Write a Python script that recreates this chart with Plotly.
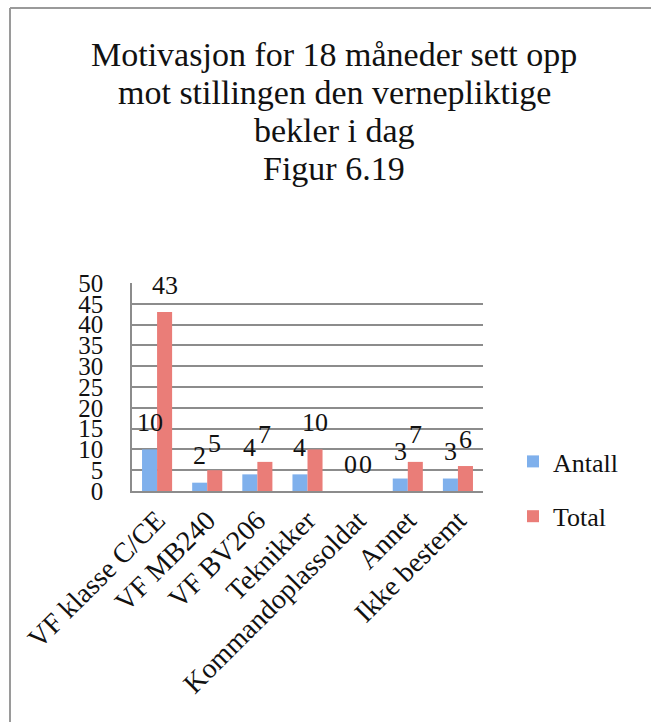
import plotly.graph_objects as go

# Categories and values
categories = ["VF klasse C/CE", "VF MB240", "VF BV206", "Teknikker",
              "Kommandoplassoldat", "Annet", "Ikke bestemt"]
antall = [10, 2, 4, 4, 0, 3, 3]
total = [43, 5, 7, 10, 0, 7, 6]
y_ticks = list(range(0, 51, 5))
title_lines = ["Motivasjon for 18 måneder sett opp",
               "mot stillingen den vernepliktige",
               "bekler i dag",
               "Figur 6.19"]

FONT = "Liberation Serif"
BLUE = "#7FB0EC"
RED = "#EA7D78"
GRID = "#8C8C8C"
FRAME = "#9A9A9A"

W, H = 651, 722
M_L, M_R, M_T, M_B = 132, 168, 283, 231
BARGAP = 0.4
plot_w = W - M_L - M_R
plot_h = H - M_T - M_B


def px_x(px):
    return (px - M_L) / plot_w


def px_y(px):
    return (H - M_B - px) / plot_h


fig = go.Figure()
fig.add_trace(go.Bar(name="Antall", x=categories, y=antall, legendgroup="antall",
                     marker=dict(color=BLUE, line=dict(width=0))))
fig.add_trace(go.Bar(name="Total", x=categories, y=total, legendgroup="total",
                     marker=dict(color=RED, line=dict(width=0))))

# value labels above each bar, shifted to the bar within its group
bar_px = plot_w / len(categories) * (1 - BARGAP) / 2
annotations = []
for vals, sign in ((antall, -1), (total, 1)):
    for c, v in zip(categories, vals):
        annotations.append(dict(
            x=c, y=v, xref="x", yref="y", text=str(v), showarrow=False,
            xshift=sign * bar_px / 2, yshift=27, yanchor="middle",
            font=dict(family=FONT, size=26, color="#111111")))

# chart title, one centred line at a time
for i, line in enumerate(title_lines):
    annotations.append(dict(
        x=px_x(334), y=px_y(55 + i * 37.7), xref="paper", yref="paper",
        text=line, showarrow=False, xanchor="center", yanchor="middle",
        font=dict(family=FONT, size=34, color="#111111")))

# frame around the chart (runs off the right and bottom edges)
frame = [
    dict(type="line", xref="paper", yref="paper",
         x0=px_x(10), x1=px_x(651), y0=px_y(8), y1=px_y(8),
         line=dict(color=FRAME, width=2)),
    dict(type="line", xref="paper", yref="paper",
         x0=px_x(10), x1=px_x(10), y0=px_y(8), y1=px_y(722),
         line=dict(color=FRAME, width=2)),
]

fig.update_layout(
    width=W, height=H,
    margin=dict(l=M_L, r=M_R, t=M_T, b=M_B),
    paper_bgcolor="white", plot_bgcolor="white",
    barmode="group", bargap=BARGAP, bargroupgap=0,
    font=dict(family=FONT, color="#111111"),
    xaxis=dict(tickangle=-45, tickfont=dict(family=FONT, size=28),
               showline=True, linecolor=GRID, linewidth=1.5,
               showgrid=False, ticks=""),
    yaxis=dict(range=[0, 50], tickvals=y_ticks,
               tickfont=dict(family=FONT, size=25),
               showgrid=True, gridcolor=GRID, gridwidth=1.5,
               showline=True, linecolor=GRID, linewidth=1.5,
               zeroline=False, ticks="", ticklabelstandoff=22),
    legend=dict(x=px_x(513), y=px_y(438),
                xanchor="left", yanchor="top", tracegroupgap=18,
                font=dict(family=FONT, size=26), bgcolor="rgba(0,0,0,0)"),
    annotations=annotations,
    shapes=frame,
)

fig.write_html("out.html", config={"displayModeBar": False})
